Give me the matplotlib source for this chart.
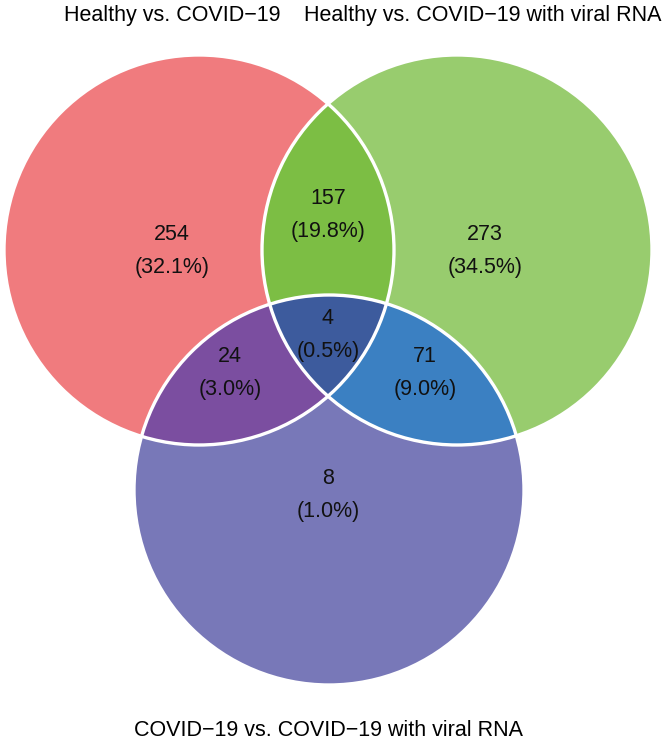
import matplotlib
matplotlib.use("Agg")
import matplotlib.pyplot as plt
import numpy as np
from matplotlib.patches import Circle, Polygon

plt.rcParams['font.family'] = ['Liberation Sans', 'DejaVu Sans']

# set names and region counts
set_names = ["Healthy vs. COVID\u221219",
             "Healthy vs. COVID\u221219 with viral RNA",
             "COVID\u221219 vs. COVID\u221219 with viral RNA"]
# regions: A only, A&B, B only, A&C, A&B&C, B&C, C only
region_keys = ["A", "AB", "B", "AC", "ABC", "BC", "C"]
region_counts = [254, 157, 273, 24, 4, 71, 8]

# colours
col = {"A": "#f07b7e", "B": "#98cc6e", "C": "#7878b8",
       "AB": "#7cbe44", "AC": "#7b4ea0", "BC": "#3b80c2", "ABC": "#3d5b9d"}

# circle layout (pixel coords, y down)
R = 195
centers = {"A": (199, 250), "B": (457, 250), "C": (329, 490)}

# label positions (center of the two text lines)
label_pos = {"A": (172, 252), "AB": (328, 216), "B": (485, 251),
             "AC": (230, 374), "ABC": (328, 335), "BC": (425, 374),
             "C": (328, 496)}

fig = plt.figure(figsize=(6.66, 7.49), dpi=100)
ax = fig.add_axes([0, 0, 1, 1])
ax.set_xlim(0, 666)
ax.set_ylim(749, 0)
ax.axis('off')

def circ(k, color, **kw):
    return Circle(centers[k], R, facecolor=color, edgecolor='none', **kw)

# single circles
for k in ["A", "B", "C"]:
    ax.add_patch(circ(k, col[k]))

# pairwise overlaps (clip one circle by another)
for a, b in [("A", "B"), ("A", "C"), ("B", "C")]:
    clip = circ(a, 'none')
    ax.add_patch(clip)
    p = circ(b, col[a + b])
    ax.add_patch(p)
    p.set_clip_path(clip)

# triple overlap: lens A&B as polygon, clipped by C
t = np.linspace(0, 2 * np.pi, 2000)
pts = []
for a, b in [("A", "B"), ("B", "A")]:
    cx, cy = centers[a]
    px, py = cx + R * np.cos(t), cy + R * np.sin(t)
    bx, by = centers[b]
    inside = (px - bx) ** 2 + (py - by) ** 2 <= R ** 2
    pts.append(np.column_stack([px[inside], py[inside]]))
pts = np.vstack(pts)
mid = pts.mean(axis=0)
order = np.argsort(np.arctan2(pts[:, 1] - mid[1], pts[:, 0] - mid[0]))
lens = Polygon(pts[order], closed=True, facecolor=col["ABC"], edgecolor='none')
ax.add_patch(lens)
clipC = circ("C", 'none')
ax.add_patch(clipC)
lens.set_clip_path(clipC)

# white outlines
for k in ["A", "B", "C"]:
    ax.add_patch(Circle(centers[k], R, fill=False, edgecolor='white', lw=2.4))

total = sum(region_counts)
for k, n in zip(region_keys, region_counts):
    x, y = label_pos[k]
    ax.text(x, y - 17, str(n), ha='center', va='center', fontsize=15.5, color='#111111')
    ax.text(x, y + 16, "({:.1f}%)".format(100 * n / total), ha='center', va='center',
            fontsize=15.5, color='#111111')

ax.text(172, 16, set_names[0], ha='center', va='center', fontsize=15.5)
ax.text(483, 16, set_names[1], ha='center', va='center', fontsize=15.5)
ax.text(329, 731, set_names[2], ha='center', va='center', fontsize=15.5)

fig.savefig("out.png", dpi=100)
